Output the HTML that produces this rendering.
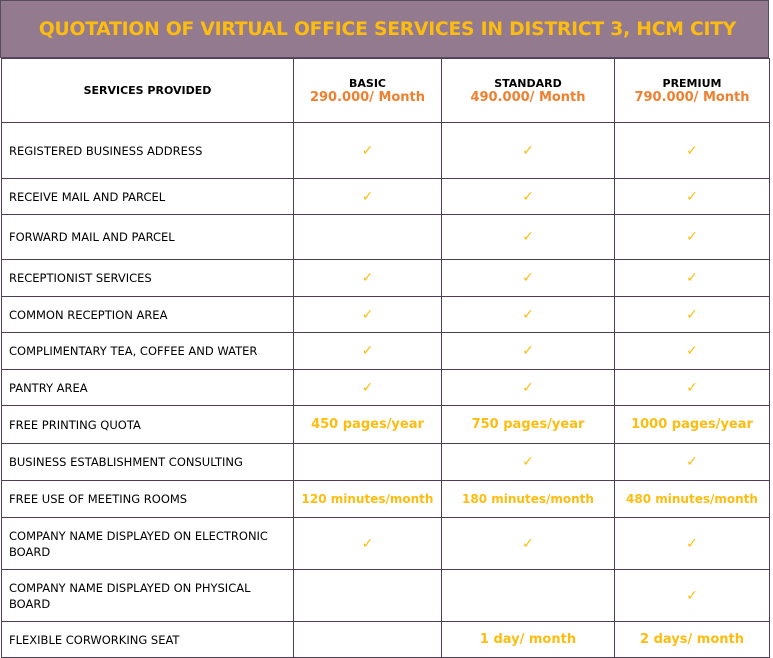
<!DOCTYPE html>
<html><head><meta charset="utf-8"><style>
body{margin:0;width:773px;height:658px;background:#fff;font-family:"DejaVu Sans","Liberation Sans",sans-serif;overflow:hidden;position:relative}
.hd{position:absolute;left:0;top:0;width:769px;height:58px;background:#937a8f;border:1px solid #5a4a5e;box-sizing:border-box;color:#fdbd10;font-weight:bold;font-size:18.7px;line-height:58px;text-align:center;letter-spacing:-0.2px;padding-left:6px}
table{position:absolute;left:1px;top:58px;border-collapse:collapse;table-layout:fixed}
td{border:1px solid #4e3d55;padding:0;font-size:11px;color:#000;vertical-align:middle;text-align:center}
td.l{text-align:left;padding-left:7px;padding-right:12px;line-height:16px;font-size:11.5px}
.y{color:#fdbd10;font-weight:bold;font-size:13px}
.c{color:#fdbd10;font-size:14px;font-weight:bold}
.m{color:#fdbd10;font-weight:bold;font-size:12px}
.o{color:#ef8030;font-weight:bold;font-size:13px}
.b{font-weight:bold;font-size:11px}
</style></head><body>
<div class="hd">QUOTATION OF VIRTUAL OFFICE SERVICES IN DISTRICT 3, HCM CITY</div>
<table>
<colgroup><col style="width:292px"><col style="width:148px"><col style="width:173px"><col style="width:155px"></colgroup>
<tr style="height:64px"><td class="b">SERVICES PROVIDED</td><td><span class="b">BASIC</span><br><span class="o">290.000/ Month</span></td><td><span class="b">STANDARD</span><br><span class="o">490.000/ Month</span></td><td><span class="b">PREMIUM</span><br><span class="o">790.000/ Month</span></td></tr>
<tr style="height:56px"><td class="l">REGISTERED BUSINESS ADDRESS</td><td class="c">✓</td><td class="c">✓</td><td class="c">✓</td></tr>
<tr style="height:36px"><td class="l">RECEIVE MAIL AND PARCEL</td><td class="c">✓</td><td class="c">✓</td><td class="c">✓</td></tr>
<tr style="height:45px"><td class="l">FORWARD MAIL AND PARCEL</td><td></td><td class="c">✓</td><td class="c">✓</td></tr>
<tr style="height:37px"><td class="l">RECEPTIONIST SERVICES</td><td class="c">✓</td><td class="c">✓</td><td class="c">✓</td></tr>
<tr style="height:36px"><td class="l">COMMON RECEPTION AREA</td><td class="c">✓</td><td class="c">✓</td><td class="c">✓</td></tr>
<tr style="height:37px"><td class="l">COMPLIMENTARY TEA, COFFEE AND WATER</td><td class="c">✓</td><td class="c">✓</td><td class="c">✓</td></tr>
<tr style="height:36px"><td class="l">PANTRY AREA</td><td class="c">✓</td><td class="c">✓</td><td class="c">✓</td></tr>
<tr style="height:38px"><td class="l">FREE PRINTING QUOTA</td><td class="y">450 pages/year</td><td class="y">750 pages/year</td><td class="y">1000 pages/year</td></tr>
<tr style="height:37px"><td class="l">BUSINESS ESTABLISHMENT CONSULTING</td><td></td><td class="c">✓</td><td class="c">✓</td></tr>
<tr style="height:37px"><td class="l">FREE USE OF MEETING ROOMS</td><td class="m">120 minutes/month</td><td class="m">180 minutes/month</td><td class="m">480 minutes/month</td></tr>
<tr style="height:52px"><td class="l">COMPANY NAME DISPLAYED ON ELECTRONIC BOARD</td><td class="c">✓</td><td class="c">✓</td><td class="c">✓</td></tr>
<tr style="height:52px"><td class="l">COMPANY NAME DISPLAYED ON PHYSICAL BOARD</td><td></td><td></td><td class="c">✓</td></tr>
<tr style="height:36px"><td class="l">FLEXIBLE CORWORKING SEAT</td><td></td><td class="y">1 day/ month</td><td class="y">2 days/ month</td></tr>
</table>
</body></html>
